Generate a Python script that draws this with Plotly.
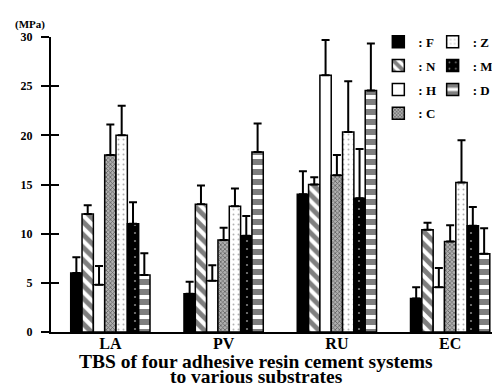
import plotly.graph_objects as go

substrates = ["LA", "PV", "RU", "EC"]
series_names = ["F", "N", "H", "C", "Z", "M", "D"]

F = [6.0, 3.9, 14.0, 3.4]
N = [12.0, 13.0, 15.0, 10.4]
H = [4.8, 5.2, 26.1, 4.55]
C = [18.0, 9.35, 15.95, 9.2]
Z = [20.0, 12.8, 20.35, 15.2]
M = [11.0, 9.8, 13.6, 10.8]
D = [5.8, 18.3, 24.55, 7.95]

F_sd = [1.6, 1.2, 2.35, 1.15]
N_sd = [0.9, 1.9, 0.75, 0.7]
H_sd = [1.9, 1.6, 3.6, 1.95]
C_sd = [3.1, 1.25, 2.05, 1.65]
Z_sd = [3.0, 1.8, 5.15, 4.3]
M_sd = [2.2, 2.0, 5.0, 1.9]
D_sd = [2.2, 2.9, 4.8, 2.6]

y_ticks = [0, 5, 10, 15, 20, 25, 30]

values = {"F": F, "N": N, "H": H, "C": C, "Z": Z, "M": M, "D": D}
sds = {"F": F_sd, "N": N_sd, "H": H_sd, "C": C_sd, "Z": Z_sd, "M": M_sd, "D": D_sd}

styles = {
    "F": dict(color="black", pattern=dict(shape="")),
    "N": dict(color="white", pattern=dict(shape="\\", fgcolor="black", bgcolor="white", size=9, solidity=0.55)),
    "H": dict(color="white", pattern=dict(shape="")),
    "C": dict(color="#777777", pattern=dict(shape="x", fgcolor="#111111", bgcolor="#b0b0b0", size=3, solidity=0.45)),
    "Z": dict(color="white", pattern=dict(shape=".", fgcolor="#666666", bgcolor="white", size=5, solidity=0.12)),
    "M": dict(color="black", pattern=dict(shape=".", fgcolor="white", bgcolor="black", size=8, solidity=0.06)),
    "D": dict(color="white", pattern=dict(shape="-", fgcolor="black", bgcolor="white", size=10, solidity=0.6)),
}
legend_of = {"F": "legend", "N": "legend", "H": "legend", "C": "legend",
             "Z": "legend2", "M": "legend2", "D": "legend2"}

FONT = "Liberation Serif"

# page body has an 8px margin, so the figure is drawn 8px smaller and offset
W, H_ = 492, 377
L, T, R = 43, 28.7, 0
B = 53.3
PLOT_H = H_ - T - B
PLOT_W = W - L - R


def below(px):
    return -px / PLOT_H


TITLE_X = (256 - 51) / PLOT_W

fig = go.Figure()
for name in series_names:
    st = styles[name]
    fig.add_trace(go.Bar(
        x=substrates, y=values[name], name=": " + name,
        legend=legend_of[name], legendgroup=name,
        marker=dict(color=st["color"], pattern=st["pattern"],
                    line=dict(color="black", width=1.5)),
        error_y=dict(type="data", array=sds[name], arrayminus=[0] * 4,
                     symmetric=False, color="black", thickness=2, width=4),
    ))

fig.add_trace(go.Scatter(x=[substrates[0]], y=[0], yaxis="y2", mode="markers",
                         marker=dict(opacity=0), showlegend=False, hoverinfo="skip"))

legend_common = dict(orientation="v", xanchor="left", yanchor="top",
                     font=dict(family=FONT, size=13, weight="bold"),
                     bgcolor="rgba(0,0,0,0)", tracegroupgap=4, itemclick=False)

fig.update_layout(
    width=W, height=H_,
    margin=dict(l=L, r=R, t=T, b=B, autoexpand=False),
    paper_bgcolor="white", plot_bgcolor="white",
    barmode="group", bargap=0.30, bargroupgap=0,
    font=dict(family=FONT, color="black", weight="bold"),
    xaxis=dict(range=[-0.524, 3.44], showline=True, linecolor="black", linewidth=2,
               ticks="", showgrid=False, zeroline=False, ticklabelstandoff=-4,
               tickfont=dict(family=FONT, size=16, weight="bold")),
    yaxis=dict(range=[0, 30], tickvals=y_ticks, showline=True, linecolor="black", linewidth=2,
               ticks="outside", ticklen=8, tickwidth=2, tickcolor="black",
               showgrid=False, zeroline=False, ticklabelstandoff=6,
               tickfont=dict(family=FONT, size=12, weight="bold")),
    yaxis2=dict(range=[0, 30], tickvals=y_ticks, overlaying="y", anchor="x", side="left",
                ticks="inside", ticklen=8, tickwidth=2, tickcolor="black",
                showticklabels=False, showgrid=False, zeroline=False, showline=False),
    legend=dict(x=0.729, y=1.035, **legend_common),
    legend2=dict(x=0.85, y=1.035, **legend_common),
    showlegend=True,
    annotations=[
        dict(text="(MPa)", xref="paper", yref="paper", x=-0.046, y=1.014,
             xanchor="center", yanchor="bottom", showarrow=False,
             font=dict(family=FONT, size=11, weight="bold")),
        dict(text="TBS of four adhesive resin cement systems", xref="paper", yref="paper",
             x=TITLE_X, y=below(29.0), xanchor="center", yanchor="middle", showarrow=False,
             font=dict(family=FONT, size=19.5, weight="bold")),
        dict(text="to various substrates", xref="paper", yref="paper",
             x=TITLE_X, y=below(44.5), xanchor="center", yanchor="middle", showarrow=False,
             font=dict(family=FONT, size=19.5, weight="bold")),
    ],
)

fig.write_html("out.html")
